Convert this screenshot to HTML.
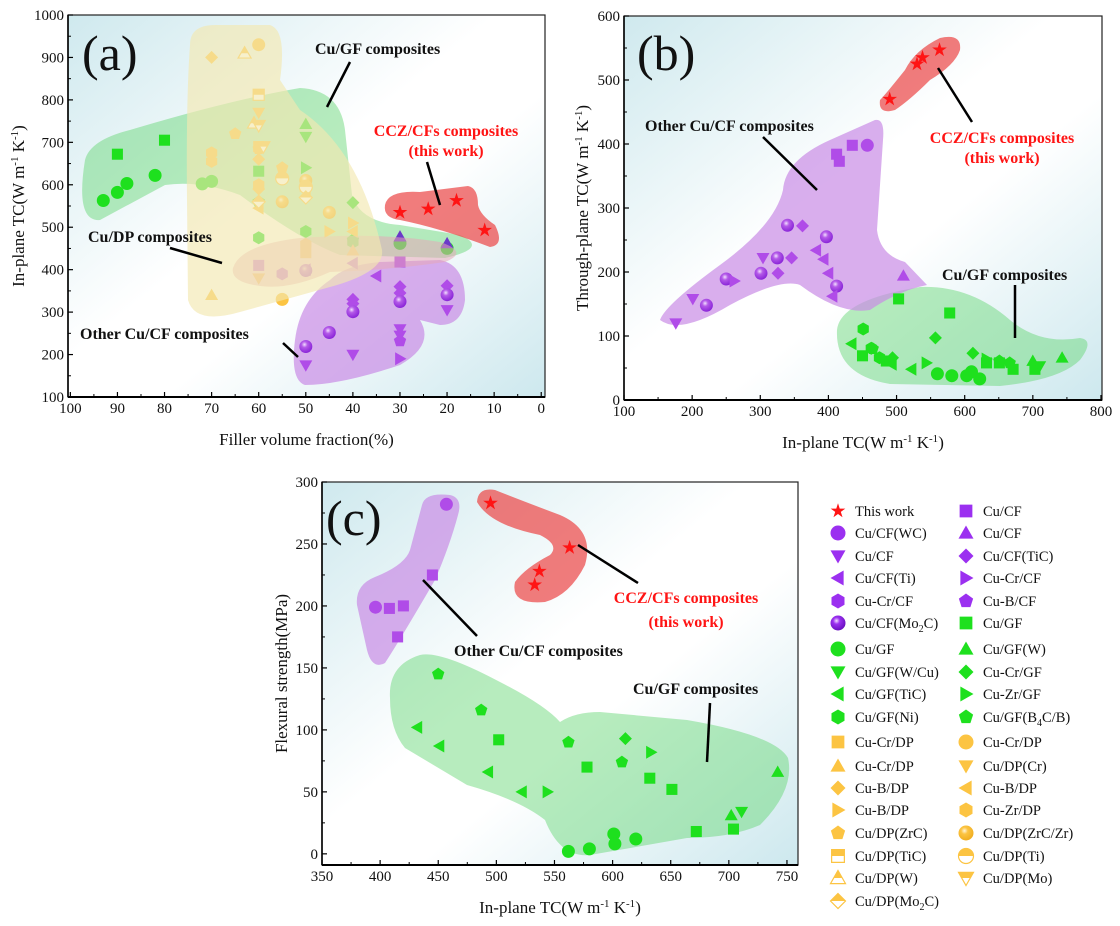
<!DOCTYPE html>
<html><head><meta charset="utf-8"><style>
html,body{margin:0;padding:0;background:#fff;}
svg{display:block;font-family:"Liberation Serif",serif;}
</style></head><body>
<svg id="fig" width="1120" height="926" viewBox="0 0 1120 926" xmlns="http://www.w3.org/2000/svg">
<defs>
<linearGradient id="bg" x1="0" y1="0" x2="1" y2="1">
<stop offset="0" stop-color="#cfe9ee"/><stop offset="0.45" stop-color="#ffffff"/><stop offset="0.6" stop-color="#ffffff"/><stop offset="1" stop-color="#cde8ee"/>
</linearGradient>
<radialGradient id="sphP" cx="0.4" cy="0.35" r="0.65"><stop offset="0" stop-color="#f3e0ff"/><stop offset="0.35" stop-color="#b45ae8"/><stop offset="1" stop-color="#8a25d8"/></radialGradient>
<radialGradient id="sphY" cx="0.4" cy="0.35" r="0.65"><stop offset="0" stop-color="#fff6dd"/><stop offset="0.35" stop-color="#fcc442"/><stop offset="1" stop-color="#f0ae20"/></radialGradient>
<radialGradient id="sphL" cx="0.4" cy="0.35" r="0.65"><stop offset="0" stop-color="#f3e0ff"/><stop offset="0.35" stop-color="#9b30f0"/><stop offset="1" stop-color="#6a10c0"/></radialGradient>
<clipPath id="tophalf" clipPathUnits="userSpaceOnUse"><rect x="-20" y="-20" width="40" height="20"/></clipPath>
</defs>
</svg>
<script>
// ---------- data: panel (a) filler fraction (%) vs in-plane TC ----------
const a_star_x=[30,24,18,12], a_star_y=[535,543,563,493];
const a_cfsq_x=[60,30], a_cfsq_y=[410,418];
const a_cftri_x=[30,20], a_cftri_y=[478,462];
const a_cfdtri_x=[50,40,30,30,20], a_cfdtri_y=[175,200,260,245,305];
const a_cfdia_x=[40,40,30,30,20], a_cfdia_y=[330,320,360,345,362];
const a_cfltri_x=[40,35,50], a_cfltri_y=[415,385,400];
const a_cfrtri_x=[30], a_cfrtri_y=[190];
const a_cfhex_x=[55], a_cfhex_y=[390];
const a_cfpent_x=[30], a_cfpent_y=[232];
const a_cfsph_x=[50,45,40,30,20,50], a_cfsph_y=[219,252,301,325,341,398];
const a_gfsq_x=[90,80,60], a_gfsq_y=[672,705,632];
const a_gfcir_x=[93,90,88,82,72,70,30,20], a_gfcir_y=[563,582,603,622,602,608,462,450];
const a_gftri_x=[50], a_gftri_y=[743];
const a_gfdtri_x=[50], a_gfdtri_y=[713];
const a_gfdia_x=[40], a_gfdia_y=[558];
const a_gfrtri_x=[50], a_gfrtri_y=[640];
const a_gfhex_x=[60,50,40], a_gfhex_y=[475,490,465];
const a_gfpent_x=[60,40], a_gfpent_y=[560,470];
const a_dpsq_x=[60,50], a_dpsq_y=[690,440];
const a_dpcir_x=[60,55], a_dpcir_y=[930,330];
const a_dptri_x=[70,40], a_dptri_y=[340,445];
const a_dpdtri_x=[60,60], a_dpdtri_y=[770,380];
const a_dpdia_x=[70,60,60], a_dpdia_y=[900,660,590];
const a_dpltri_x=[60,50,40], a_dpltri_y=[545,585,490];
const a_dprtri_x=[45,40], a_dprtri_y=[490,510];
const a_dphex_x=[70,70,60,50], a_dphex_y=[675,655,600,460];
const a_dppent_x=[65,55,60], a_dppent_y=[720,640,685];
const a_dpsph_x=[55,45,50], a_dpsph_y=[560,535,610];
const a_dphsq_x=[60], a_dphsq_y=[812];
const a_dphcir_x=[55,50], a_dphcir_y=[615,595];
const a_dphtri_x=[63,61], a_dphtri_y=[910,745];
const a_dphdtri_x=[60,59], a_dphdtri_y=[740,690];
const a_dphdia_x=[60,50], a_dphdia_y=[560,570];
// ---------- panel (b) in-plane vs through-plane TC ----------
const b_star_x=[490,530,538,563], b_star_y=[470,525,535,547];
const b_cfsq_x=[435,412,416], b_cfsq_y=[398,384,373];
const b_cfcir_x=[457], b_cfcir_y=[398];
const b_cfsph_x=[340,397,325,301,221,250,412], b_cfsph_y=[273,255,222,198,148,189,178];
const b_cfdia_x=[362,346,326], b_cfdia_y=[272,222,198];
const b_cfltri_x=[382,393,400,406], b_cfltri_y=[234,220,198,162];
const b_cfdtri_x=[176,201,304], b_cfdtri_y=[120,158,222];
const b_cfrtri_x=[262], b_cfrtri_y=[186];
const b_cftri_x=[510], b_cftri_y=[194];
const b_gfsq_x=[503,578,450,485,632,671,703,651], b_gfsq_y=[158,136,69,61,58,48,48,58];
const b_gfcir_x=[560,581,603,622,610], b_gfcir_y=[41,38,38,33,44];
const b_gfhex_x=[451,463,475], b_gfhex_y=[111,81,66];
const b_gfdia_x=[557,612,494], b_gfdia_y=[97,73,66];
const b_gfltri_x=[434,522,493], b_gfltri_y=[88,48,56];
const b_gfrtri_x=[544,632], b_gfrtri_y=[58,64];
const b_gftri_x=[743,700], b_gftri_y=[66,61];
const b_gfdtri_x=[710], b_gfdtri_y=[53];
const b_gfpent_x=[666,465,651], b_gfpent_y=[58,80,61];
// ---------- panel (c) in-plane TC vs flexural strength ----------
const c_star_x=[495,563,537,533], c_star_y=[283,247,228,217];
const c_cfcir_x=[457,396], c_cfcir_y=[282,199];
const c_cfsq_x=[408,420,415,445], c_cfsq_y=[198,200,175,225];
const c_gfpent_x=[450,487,562,608], c_gfpent_y=[145,116,90,74];
const c_gfsq_x=[502,578,632,651,672,704], c_gfsq_y=[92,70,61,52,18,20];
const c_gfltri_x=[432,451,493,522], c_gfltri_y=[102,87,66,50];
const c_gfrtri_x=[544,633], c_gfrtri_y=[50,82];
const c_gfdia_x=[611], c_gfdia_y=[93];
const c_gftri_x=[742,702], c_gftri_y=[66,31];
const c_gfdtri_x=[711], c_gfdtri_y=[34];
const c_gfcir_x=[562,580,601,602,620], c_gfcir_y=[2,4,16,8,12];
// tick labels
const a_xticks=[100,90,80,70,60,50,40,30,20,10,0];
const a_yticks=[100,200,300,400,500,600,700,800,900,1000];
const b_xticks=[100,200,300,400,500,600,700,800];
const b_yticks=[0,100,200,300,400,500,600];
const c_xticks=[350,400,450,500,550,600,650,700,750];
const c_yticks=[0,50,100,150,200,250,300];

const NS='http://www.w3.org/2000/svg';
const svg=document.getElementById('fig');
function mk(tag,attrs,parent){const e=document.createElementNS(NS,tag);for(const k in attrs)e.setAttribute(k,attrs[k]);(parent||svg).appendChild(e);return e;}

const P='#b04ce8', G='#1ee01e', Y='#fcc442', R='#ff1414', LP='#9b30f0';
function poly(n,r,rot){let s='';for(let i=0;i<n;i++){const a=rot+i*2*Math.PI/n;s+=(i?'L':'M')+(r*Math.cos(a)).toFixed(2)+','+(r*Math.sin(a)).toFixed(2);}return s+'Z';}
function shapePath(t,r){
  switch(t){
    case 'square':case 'hsq':{const s=r*0.85;return `M${-s},${-s}H${s}V${s}H${-s}Z`;}
    case 'tri':case 'htri':return `M0,${-r}L${r},${r*0.75}L${-r},${r*0.75}Z`;
    case 'dtri':case 'hdtri':return `M0,${r}L${r},${-r*0.75}L${-r},${-r*0.75}Z`;
    case 'ltri':return `M${-r},0L${r*0.75},${-r}L${r*0.75},${r}Z`;
    case 'rtri':return `M${r},0L${-r*0.75},${-r}L${-r*0.75},${r}Z`;
    case 'diamond':case 'hdia':return `M0,${-r}L${r},0L0,${r}L${-r},0Z`;
    case 'hex':return poly(6,r,-Math.PI/2);
    case 'pent':return poly(5,r,-Math.PI/2);
    case 'star':{let s='';for(let i=0;i<10;i++){const a=-Math.PI/2+i*Math.PI/5;const rr=i%2?r*0.42:r*1.1;s+=(i?'L':'M')+(rr*Math.cos(a)).toFixed(2)+','+(rr*Math.sin(a)).toFixed(2);}return s+'Z';}
    default:return `M${-r},0A${r},${r} 0 1 0 ${r},0A${r},${r} 0 1 0 ${-r},0Z`;
  }
}
function marker(parent,t,cx,cy,r,col,name){
  const g=mk('g',{transform:`translate(${cx.toFixed(1)},${cy.toFixed(1)})`},parent);
  
  
  const d=shapePath(t,r);
  if(t[0]==='h'&&t!=='hex'){
    mk('path',{d:d,fill:'#fff',stroke:col,'stroke-width':1.2},g);
    mk('path',{d:d,fill:col,'clip-path':'url(#tophalf)'},g);
  }else if(t==='sphere'){
    const grad=col===Y?'url(#sphY)':(col===LP?'url(#sphL)':'url(#sphP)');
    mk('path',{d:d,fill:grad},g);
  }else{
    mk('path',{d:d,fill:col},g);
  }
  return g;
}

function panel(o){
  const {L,T,W,H,xmin,xmax,ymin,ymax}=o;
  const sx=v=>L+(v-xmin)/(xmax-xmin)*W;
  const sy=v=>T+H-(v-ymin)/(ymax-ymin)*H;
  const g=mk('g',{});
  
  
  const bg=mk('rect',{x:L,y:T,width:W,height:H,fill:'url(#bg)'},g);
  
  
  return {g,sx,sy};
}
function blob(g,d,fill,op,name){const p=mk('path',{d:d,fill:fill,'fill-opacity':op},g);return p;}
function series(g,p,xs,ys,t,col,name,r){for(let i=0;i<xs.length;i++){marker(g,t,p.sx(xs[i]),p.sy(ys[i]),r||6,col,name);}}
function axes(p,o){
  const g=p.g,{L,T,W,H}=o;
  const fr=mk('rect',{x:L,y:T,width:W,height:H,fill:'none',stroke:'#222','stroke-width':1.2},g);
  
  mk('line',{x1:L,y1:T+H,x2:L+W,y2:T+H,stroke:'#000','stroke-width':2},g);
  mk('line',{x1:L,y1:T,x2:L,y2:T+H,stroke:'#000','stroke-width':1.6},g);
  o.xt.forEach((v,i)=>{const x=p.sx(v);mk('line',{x1:x,y1:T+H,x2:x,y2:T+H-5,stroke:'#000','stroke-width':1.2},g);
    if(i<o.xt.length-1){const xm=p.sx((v+o.xt[i+1])/2);mk('line',{x1:xm,y1:T+H,x2:xm,y2:T+H-3,stroke:'#000'},g);}
    const t=mk('text',{x:x,y:T+H+16,'font-size':15,'text-anchor':'middle',fill:'#111'},g);t.textContent=v;
    });
  o.yt.forEach((v,i)=>{const y=p.sy(v);mk('line',{x1:L,y1:y,x2:L+5,y2:y,stroke:'#000','stroke-width':1.2},g);
    if(i<o.yt.length-1){const ym=p.sy((v+o.yt[i+1])/2);mk('line',{x1:L,y1:ym,x2:L+3,y2:ym,stroke:'#000'},g);}
    const t=mk('text',{x:L-4,y:y+5,'font-size':15,'text-anchor':'end',fill:'#111'},g);t.textContent=v;
    });
  const xl=mk('text',{x:L+W/2,y:T+H+48,'font-size':17,'text-anchor':'middle',fill:'#111'},g);xl.innerHTML=o.xlab;
  
  const yl=mk('text',{x:0,y:0,'font-size':17,'text-anchor':'middle',fill:'#111',transform:`translate(${o.ylx},${T+H/2}) rotate(-90)`},g);yl.innerHTML=o.ylab;
  
}
function label(g,x,y,txt,col,size,name,anchor,weight){const t=mk('text',{x:x,y:y,'font-size':size,'font-weight':weight||'bold',fill:col,'text-anchor':anchor||'start'},g);t.textContent=txt;return t;}
function leader(g,x1,y1,x2,y2){const l=mk('line',{x1,y1,x2,y2,stroke:'#000','stroke-width':2.5},g);}
const TCU='In-plane TC(W m<tspan font-size="11" dy="-6">-1</tspan><tspan dy="6"> K</tspan><tspan font-size="11" dy="-6">-1</tspan><tspan dy="6">)</tspan>';
const PURP='#c98be6', POP=0.7;

// ===== Panel (a) =====
const oa={name:'panel-a',L:68,T:15,W:477,H:382,xmin:100.5,xmax:-0.8,ymin:100,ymax:1000,xt:a_xticks,yt:a_yticks,
  xlab:'Filler volume fraction(%)',ylab:TCU,ylx:24};
const pa=panel(oa);
blob(pa.g,'M85,160 Q90,140 130,130 Q230,100 300,88 Q340,90 345,130 L352,195 Q360,222 400,225 L460,235 Q490,248 445,258 L340,255 Q300,240 240,195 Q200,180 165,185 L100,220 Q75,222 85,160Z','#5fd46f',0.45,'cu-gf-region');
blob(pa.g,'M295,340 Q300,300 330,280 Q345,265 380,262 L440,260 Q465,265 465,300 Q462,325 440,325 L420,320 Q435,345 400,365 Q340,385 305,385 Q290,380 295,340Z',PURP,POP,'other-cu-cf-region');
blob(pa.g,'M385,205 Q388,190 420,192 L468,186 Q478,188 478,205 Q480,215 495,225 Q505,245 490,247 Q440,228 400,220 Q383,218 385,205Z','#ec4a4a',0.72,'ccz-cf-region');
[[a_gfsq_x,a_gfsq_y,'square',G],[a_gfcir_x,a_gfcir_y,'circle',G],[a_gftri_x,a_gftri_y,'tri',G],[a_gfdtri_x,a_gfdtri_y,'dtri',G],[a_gfdia_x,a_gfdia_y,'diamond',G],[a_gfrtri_x,a_gfrtri_y,'rtri',G],[a_gfhex_x,a_gfhex_y,'hex',G],[a_gfpent_x,a_gfpent_y,'pent',G],
 [a_cfsq_x,a_cfsq_y,'square',P],[a_cftri_x,a_cftri_y,'tri','#6a3ac8'],[a_cfdtri_x,a_cfdtri_y,'dtri',P],[a_cfdia_x,a_cfdia_y,'diamond',P],[a_cfltri_x,a_cfltri_y,'ltri',P],[a_cfrtri_x,a_cfrtri_y,'rtri',P],[a_cfhex_x,a_cfhex_y,'hex',P],[a_cfpent_x,a_cfpent_y,'pent',P],[a_cfsph_x,a_cfsph_y,'sphere',P],
 [a_dpsq_x,a_dpsq_y,'square',Y],[a_dpcir_x,a_dpcir_y,'circle',Y],[a_dptri_x,a_dptri_y,'tri',Y],[a_dpdtri_x,a_dpdtri_y,'dtri',Y],[a_dpdia_x,a_dpdia_y,'diamond',Y],[a_dpltri_x,a_dpltri_y,'ltri',Y],[a_dprtri_x,a_dprtri_y,'rtri',Y],[a_dphex_x,a_dphex_y,'hex',Y],[a_dppent_x,a_dppent_y,'pent',Y],[a_dpsph_x,a_dpsph_y,'sphere',Y],
 [a_dphsq_x,a_dphsq_y,'hsq',Y],[a_dphcir_x,a_dphcir_y,'hcir',Y],[a_dphtri_x,a_dphtri_y,'htri',Y],[a_dphdtri_x,a_dphdtri_y,'hdtri',Y],[a_dphdia_x,a_dphdia_y,'hdia',Y]
].forEach(s=>series(pa.g,pa,s[0],s[1],s[2],s[3],'data-point',6.5));
blob(pa.g,'M233,268 Q240,245 300,238 Q380,232 440,242 Q470,252 445,262 Q390,270 330,272 Q290,290 260,286 Q230,282 233,268Z','#e6a8b8',0.55,'overlap-region');
blob(pa.g,'M190,45 Q190,25 215,25 L270,25 Q287,30 280,80 L300,110 Q360,150 382,250 Q385,272 330,287 L240,312 Q195,325 188,300 L187,200 Q186,100 190,45Z','#f2e8b0',0.65,'cu-dp-region');
series(pa.g,pa,a_star_x,a_star_y,'star',R,'this-work-point',7);
axes(pa,oa);
label(pa.g,82,70,'(a)','#111',50,'panel-label','start','normal');
label(pa.g,315,54,'Cu/GF composites','#111',16,'annotation-cu-gf');
leader(pa.g,350,62,327,107);
label(pa.g,446,136,'CCZ/CFs composites',R,16,'annotation-ccz-cf','middle');
label(pa.g,446,156,'(this work)',R,16,'annotation-this-work','middle');
leader(pa.g,427,162,440,205);
label(pa.g,88,242,'Cu/DP composites','#111',16,'annotation-cu-dp');
leader(pa.g,170,248,222,263);
label(pa.g,80,339,'Other Cu/CF composites','#111',16,'annotation-other-cu-cf');
leader(pa.g,283,343,298,357);

// ===== Panel (b) =====
const ob={name:'panel-b',L:624,T:16,W:478,H:384,xmin:100,xmax:801.5,ymin:0,ymax:600,xt:b_xticks,yt:b_yticks,
  xlab:TCU,ylab:'Through-plane TC(W m<tspan font-size="11" dy="-6">-1</tspan><tspan dy="6"> K</tspan><tspan font-size="11" dy="-6">-1</tspan><tspan dy="6">)</tspan>',ylx:588};
const pb=panel(ob);
blob(pb.g,'M837,330 Q840,300 920,287 Q970,285 1010,320 Q1040,345 1080,338 Q1095,340 1080,360 Q1060,380 1000,386 L890,384 Q835,375 837,330Z','#5fd46f',0.45,'cu-gf-region');
blob(pb.g,'M660,320 Q665,305 720,265 Q775,225 783,190 Q785,160 830,140 L875,120 Q885,118 883,140 L877,230 Q880,255 905,262 L927,285 Q900,290 870,310 Q840,315 800,285 Q780,278 730,305 Q680,335 660,320Z',PURP,POP,'other-cu-cf-region');
blob(pb.g,'M880,100 Q885,95 905,70 Q915,50 940,38 Q962,33 960,50 Q955,65 930,80 Q910,100 895,110 Q878,115 880,100Z','#ec4a4a',0.72,'ccz-cf-region');
[[b_cfsq_x,b_cfsq_y,'square',P],[b_cfcir_x,b_cfcir_y,'circle',P],[b_cfsph_x,b_cfsph_y,'sphere',P],[b_cfdia_x,b_cfdia_y,'diamond',P],[b_cfltri_x,b_cfltri_y,'ltri',P],[b_cfdtri_x,b_cfdtri_y,'dtri',P],[b_cfrtri_x,b_cfrtri_y,'rtri',P],[b_cftri_x,b_cftri_y,'tri',P],
 [b_gfsq_x,b_gfsq_y,'square',G],[b_gfcir_x,b_gfcir_y,'circle',G],[b_gfhex_x,b_gfhex_y,'hex',G],[b_gfdia_x,b_gfdia_y,'diamond',G],[b_gfltri_x,b_gfltri_y,'ltri',G],[b_gfrtri_x,b_gfrtri_y,'rtri',G],[b_gftri_x,b_gftri_y,'tri',G],[b_gfdtri_x,b_gfdtri_y,'dtri',G],[b_gfpent_x,b_gfpent_y,'pent',G]
].forEach(s=>series(pb.g,pb,s[0],s[1],s[2],s[3],'data-point',6.5));
series(pb.g,pb,b_star_x,b_star_y,'star',R,'this-work-point',7);
axes(pb,ob);
label(pb.g,637,70,'(b)','#111',50,'panel-label','start','normal');
label(pb.g,645,131,'Other Cu/CF composites','#111',16,'annotation-other-cu-cf');
leader(pb.g,763,137,817,190);
label(pb.g,1002,143,'CCZ/CFs composites',R,16,'annotation-ccz-cf','middle');
label(pb.g,1002,163,'(this work)',R,16,'annotation-this-work','middle');
leader(pb.g,938,68,972,122);
label(pb.g,942,280,'Cu/GF composites','#111',16,'annotation-cu-gf');
leader(pb.g,1015,285,1015,338);

// ===== Panel (c) =====
const oc={name:'panel-c',L:322,T:482,W:476,H:383,xmin:350,xmax:759.5,ymin:-9,ymax:300,xt:c_xticks,yt:c_yticks,
  xlab:TCU,ylab:'Flexural strength(MPa)',ylx:287};
const pc=panel(oc);
blob(pc.g,'M390,698 Q388,665 420,655 Q440,650 500,682 Q545,705 560,722 Q575,712 600,712 L687,720 Q775,735 788,758 Q795,790 760,825 Q730,838 687,838 L590,855 Q560,858 545,820 Q520,800 467,785 L405,748 Q390,730 390,698Z','#5fd46f',0.45,'cu-gf-region');
blob(pc.g,'M357,605 Q355,585 375,577 Q405,565 410,550 L422,505 Q425,492 450,495 Q463,498 458,515 Q450,545 435,580 Q400,640 385,663 Q372,670 367,650 Z',PURP,POP,'other-cu-cf-region');
blob(pc.g,'M477,502 Q478,487 495,490 Q520,500 560,515 Q595,530 585,565 Q570,595 545,602 Q510,605 515,582 Q525,568 550,555 Q560,545 540,535 Q490,525 477,502Z','#ec4a4a',0.72,'ccz-cf-region');
[[c_cfcir_x,c_cfcir_y,'circle',P],[c_cfsq_x,c_cfsq_y,'square',P],
 [c_gfpent_x,c_gfpent_y,'pent',G],[c_gfsq_x,c_gfsq_y,'square',G],[c_gfltri_x,c_gfltri_y,'ltri',G],[c_gfrtri_x,c_gfrtri_y,'rtri',G],[c_gfdia_x,c_gfdia_y,'diamond',G],[c_gftri_x,c_gftri_y,'tri',G],[c_gfdtri_x,c_gfdtri_y,'dtri',G],[c_gfcir_x,c_gfcir_y,'circle',G]
].forEach(s=>series(pc.g,pc,s[0],s[1],s[2],s[3],'data-point',6.5));
series(pc.g,pc,c_star_x,c_star_y,'star',R,'this-work-point',7);
axes(pc,oc);
label(pc.g,326,535,'(c)','#111',50,'panel-label','start','normal');
label(pc.g,686,603,'CCZ/CFs composites',R,16,'annotation-ccz-cf','middle');
label(pc.g,686,627,'(this work)',R,16,'annotation-this-work','middle');
leader(pc.g,578,545,638,583);
label(pc.g,454,656,'Other Cu/CF composites','#111',16,'annotation-other-cu-cf');
leader(pc.g,423,580,477,636);
label(pc.g,633,694,'Cu/GF composites','#111',16,'annotation-cu-gf');
leader(pc.g,710,703,707,762);

// ===== Legend =====
const legRows=[511,533,556,578,601,623,649,672,694,717,742,766,788,810,833,856,878,901];
const legCol1=[['This work','star',R],['Cu/CF(WC)','circle',LP],['Cu/CF','dtri',LP],['Cu/CF(Ti)','ltri',LP],['Cu-Cr/CF','hex',LP],['Cu/CF(Mo<tspan font-size="10" dy="4">2</tspan><tspan dy="-4">C)</tspan>','sphere',LP],
 ['Cu/GF','circle',G],['Cu/GF(W/Cu)','dtri',G],['Cu/GF(TiC)','ltri',G],['Cu/GF(Ni)','hex',G],
 ['Cu-Cr/DP','square',Y],['Cu-Cr/DP','tri',Y],['Cu-B/DP','diamond',Y],['Cu-B/DP','rtri',Y],['Cu/DP(ZrC)','pent',Y],['Cu/DP(TiC)','hsq',Y],['Cu/DP(W)','htri',Y],['Cu/DP(Mo<tspan font-size="10" dy="4">2</tspan><tspan dy="-4">C)</tspan>','hdia',Y]];
const legCol2=[['Cu/CF','square',LP],['Cu/CF','tri',LP],['Cu/CF(TiC)','diamond',LP],['Cu-Cr/CF','rtri',LP],['Cu-B/CF','pent',LP],['Cu/GF','square',G],
 ['Cu/GF(W)','tri',G],['Cu-Cr/GF','diamond',G],['Cu-Zr/GF','rtri',G],['Cu/GF(B<tspan font-size="10" dy="4">4</tspan><tspan dy="-4">C/B)</tspan>','pent',G],
 ['Cu-Cr/DP','circle',Y],['Cu/DP(Cr)','dtri',Y],['Cu-B/DP','ltri',Y],['Cu-Zr/DP','hex',Y],['Cu/DP(ZrC/Zr)','sphere',Y],['Cu/DP(Ti)','hcir',Y],['Cu/DP(Mo)','hdtri',Y]];
const lg=mk('g',{});


function legItem(it,row,mx,tx){
  const e=mk('g',{},lg);
  
  
  marker(e,it[1],mx,legRows[row],it[1]==='star'?7:7.5,it[2],'legend-marker');
  const t=mk('text',{x:tx,y:legRows[row]+5,'font-size':14.5,fill:'#111'},e);t.innerHTML=it[0];
}
legCol1.forEach((it,i)=>legItem(it,i,838,855));
legCol2.forEach((it,i)=>legItem(it,i,966,983));
</script>
</body></html>
